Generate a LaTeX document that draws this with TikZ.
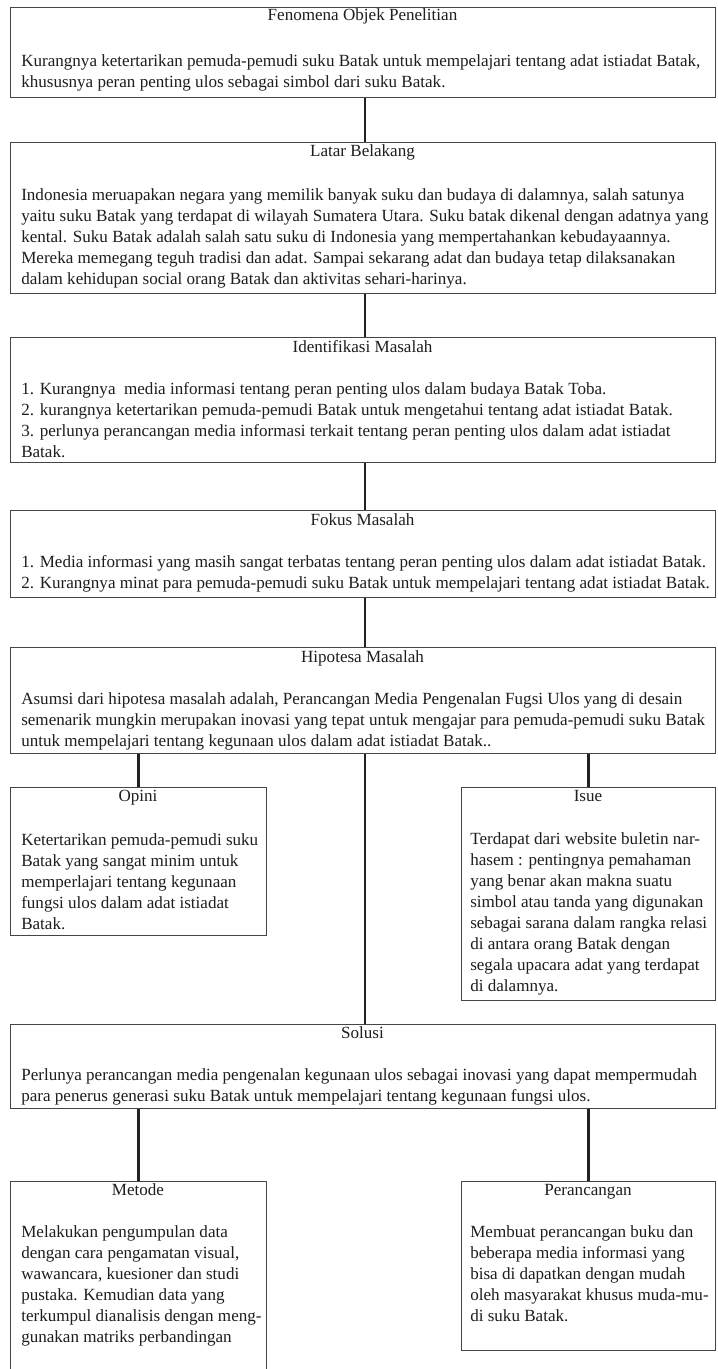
\documentclass[tikz,border=0pt]{standalone}
\usepackage{fontspec}
\setmainfont{Liberation Serif}
\definecolor{boxc}{HTML}{454545}
\definecolor{linec}{HTML}{222222}
\definecolor{txtc}{HTML}{1E1E1E}
\newcommand\bfnt{\fontsize{12.8}{15.75}\selectfont}
\begin{document}
\begin{tikzpicture}[x=0.75pt,y=-0.75pt,
  box/.style={draw=boxc, line width=1pt, inner sep=0pt, anchor=north west},
  ttl/.style={anchor=base, inner sep=0pt, text=txtc, font=\bfnt},
  body/.style={anchor=north west, inner sep=0pt, align=left, text=txtc, font=\bfnt},
  link/.style={draw=linec, line width=2.2pt}]
\useasboundingbox (0,0) rectangle (717,1369);
\fill[white] (0,0) rectangle (717,1369);
\clip (0,0) rectangle (717,1369);
% boxes
\node[box, minimum width=705*0.75pt, minimum height=90*0.75pt] (b1) at (10,7) {};
\node[box, minimum width=705*0.75pt, minimum height=151*0.75pt] (b2) at (10,142) {};
\node[box, minimum width=705*0.75pt, minimum height=125*0.75pt] (b3) at (10,337) {};
\node[box, minimum width=705*0.75pt, minimum height=87*0.75pt] (b4) at (10,510) {};
\node[box, minimum width=705*0.75pt, minimum height=106*0.75pt] (b5) at (10,647) {};
\node[box, minimum width=256*0.75pt, minimum height=148*0.75pt] (op) at (10,787) {};
\node[box, minimum width=254*0.75pt, minimum height=213*0.75pt] (is) at (461,787) {};
\node[box, minimum width=705*0.75pt, minimum height=84*0.75pt] (so) at (10,1024) {};
\node[box, minimum width=256*0.75pt, minimum height=200*0.75pt] (me) at (10,1181) {};
\node[box, minimum width=254*0.75pt, minimum height=169*0.75pt] (pe) at (461,1181) {};
% titles
\node[ttl] (t1) at (362.5,21) {Fenomena Objek Penelitian};
\node[ttl] (t2) at (362.5,157) {Latar Belakang};
\node[ttl] (t3) at (362.5,352) {Identifikasi Masalah};
\node[ttl] (t4) at (362.5,525) {Fokus Masalah};
\node[ttl] (t5) at (362.5,662) {Hipotesa Masalah};
\node[ttl] (t6) at (138,801) {Opini};
\node[ttl] (t7) at (588,801) {Isue};
\node[ttl] (t8) at (362.5,1038) {Solusi};
\node[ttl] (t9) at (138,1195) {Metode};
\node[ttl] (t10) at (588,1195) {Perancangan};
% bodies
\node[body] (x1) at (21,51.3) {\strut Kurangnya ketertarikan pemuda-pemudi suku Batak untuk mempelajari tentang adat istiadat Batak,\\khususnya peran penting ulos sebagai simbol dari suku Batak.};
\node[body] (x2) at (21,185.3) {\strut Indonesia meruapakan negara yang memilik banyak suku dan budaya di dalamnya, salah satunya\\yaitu suku Batak yang terdapat di wilayah Sumatera Utara. Suku batak dikenal dengan adatnya yang\\kental. Suku Batak adalah salah satu suku di Indonesia yang mempertahankan kebudayaannya.\\Mereka memegang teguh tradisi dan adat. Sampai sekarang adat dan budaya tetap dilaksanakan\\dalam kehidupan social orang Batak dan aktivitas sehari-harinya.};
\node[body] (x3) at (21,379.3) {\strut 1. Kurangnya\ \ media informasi tentang peran penting ulos dalam budaya Batak Toba.\\2. kurangnya ketertarikan pemuda-pemudi Batak untuk mengetahui tentang adat istiadat Batak.\\3. perlunya perancangan media informasi terkait tentang peran penting ulos dalam adat istiadat\\Batak.};
\node[body] (x4) at (21,552.3) {\strut 1. Media informasi yang masih sangat terbatas tentang peran penting ulos dalam adat istiadat Batak.\\2. Kurangnya minat para pemuda-pemudi suku Batak untuk mempelajari tentang adat istiadat Batak.};
\node[body] (x5) at (21,689.3) {\strut Asumsi dari hipotesa masalah adalah, Perancangan Media Pengenalan Fugsi Ulos yang di desain\\semenarik mungkin merupakan inovasi yang tepat untuk mengajar para pemuda-pemudi suku Batak\\untuk mempelajari tentang kegunaan ulos dalam adat istiadat Batak..};
\node[body] (x6) at (21,830.3) {\strut Ketertarikan pemuda-pemudi suku\\Batak yang sangat minim untuk\\memperlajari tentang kegunaan\\fungsi ulos dalam adat istiadat\\Batak.};
\node[body] (x7) at (470,829.3) {\strut Terdapat dari website buletin nar-\\hasem : pentingnya pemahaman\\yang benar akan makna suatu\\simbol atau tanda yang digunakan\\sebagai sarana dalam rangka relasi\\di antara orang Batak dengan\\segala upacara adat yang terdapat\\di dalamnya.};
\node[body] (x8) at (21,1065.3) {\strut Perlunya perancangan media pengenalan kegunaan ulos sebagai inovasi yang dapat mempermudah\\para penerus generasi suku Batak untuk mempelajari tentang kegunaan fungsi ulos.};
\node[body] (x9) at (21,1222.3) {\strut Melakukan pengumpulan data\\dengan cara pengamatan visual,\\wawancara, kuesioner dan studi\\pustaka. Kemudian data yang\\terkumpul dianalisis dengan meng-\\gunakan matriks perbandingan};
\node[body] (x10) at (470,1222.3) {\strut Membuat perancangan buku dan\\beberapa media informasi yang\\bisa di dapatkan dengan mudah\\oleh masyarakat khusus muda-mu-\\di suku Batak.};
% connectors
\coordinate (cx) at (365,0);
\draw[link] (b1.south -| cx) -- (b2.north -| cx);
\draw[link] (b2.south -| cx) -- (b3.north -| cx);
\draw[link] (b3.south -| cx) -- (b4.north -| cx);
\draw[link] (b4.south -| cx) -- (b5.north -| cx);
\draw[link] (b5.south -| cx) -- (so.north -| cx);
\draw[link] (op.north) -- (op.north |- b5.south);
\draw[link] (is.north) -- (is.north |- b5.south);
\draw[link] (me.north) -- (me.north |- so.south);
\draw[link] (pe.north) -- (pe.north |- so.south);
\end{tikzpicture}
\end{document}
